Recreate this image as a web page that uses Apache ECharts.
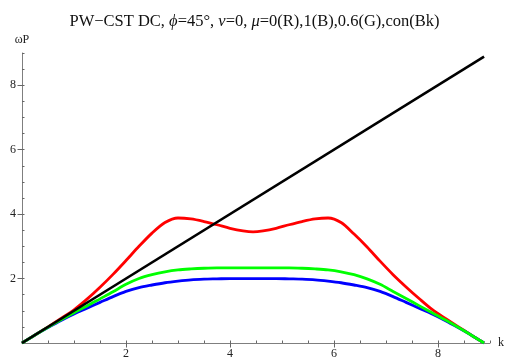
<!DOCTYPE html>
<html>
<head>
<meta charset="utf-8">
<script src="https://cdn.jsdelivr.net/npm/echarts@6/dist/echarts.min.js"></script>
<style>html,body{margin:0;padding:0;background:#fff}#c{width:509px;height:363px}</style>
</head>
<body>
<div id="c"></div>
<script>
const kValues = [0, 0.25, 0.5, 0.75, 1, 1.25, 1.5, 1.75, 2, 2.25, 2.5, 2.75, 3, 3.25, 3.5, 3.75, 4, 4.25, 4.443,
  4.636, 4.886, 5.136, 5.386, 5.636, 5.886, 6.136, 6.386, 6.636, 6.886, 7.136, 7.386, 7.636, 7.886, 8.136, 8.386, 8.636, 8.886];
const redValues = [0, 0.25, 0.5, 0.76, 1.03, 1.36, 1.73, 2.13, 2.56, 3.0, 3.41, 3.74, 3.88, 3.85, 3.77, 3.67, 3.56, 3.48, 3.45,
  3.48, 3.56, 3.67, 3.77, 3.85, 3.88, 3.74, 3.38, 2.98, 2.54, 2.12, 1.74, 1.38, 1.04, 0.77, 0.51, 0.25, 0];
const greenValues = [0, 0.25, 0.49, 0.72, 0.94, 1.15, 1.37, 1.59, 1.82, 2.0, 2.12, 2.21, 2.27, 2.3, 2.32, 2.33, 2.33, 2.33, 2.33,
  2.33, 2.33, 2.33, 2.32, 2.3, 2.27, 2.21, 2.12, 1.99, 1.82, 1.6, 1.38, 1.16, 0.94, 0.72, 0.49, 0.25, 0];
const blueValues = [0, 0.25, 0.48, 0.7, 0.9, 1.08, 1.26, 1.44, 1.6, 1.72, 1.8, 1.87, 1.92, 1.96, 1.98, 1.99, 2.0, 2.0, 2.0,
  2.0, 2.0, 1.99, 1.98, 1.96, 1.92, 1.87, 1.8, 1.72, 1.6, 1.44, 1.26, 1.08, 0.9, 0.7, 0.48, 0.25, 0];
const blackK = [0, 8.886];
const blackValues = [0, 8.886];
const xTickLabels = [2, 4, 6, 8];
const yTickLabels = [2, 4, 6, 8];

const pairs = (xs, ys) => xs.map((x, i) => [x, ys[i]]);
const serif = 'Liberation Serif';
const axisCol = '#7f7f7f';

function mkAxis(isX, main) {
  const base = {
    type: 'value', min: 0, max: 9, interval: 0.5,
    splitLine: { show: false },
    axisLine: { show: main, lineStyle: { color: axisCol, width: 1 } },
    axisTick: main
      ? { show: true, inside: true, length: 2.5, lineStyle: { color: '#666' } }
      : { show: true, inside: true, length: 4.5, customValues: isX ? xTickLabels : yTickLabels, lineStyle: { color: '#666' } },
    axisLabel: main
      ? { show: true, customValues: isX ? xTickLabels : yTickLabels, fontFamily: serif, fontSize: 12, color: '#222', margin: isX ? 5 : 6 }
      : { show: false },
    z: main ? 1 : 2
  };
  if (main) {
    if (isX) { base.name = 'k'; base.nameLocation = 'end'; base.nameGap = 8; base.nameTextStyle = { fontFamily: serif, fontSize: 12, color: '#222' }; }
    else { base.name = 'ωP'; base.nameLocation = 'end'; base.nameGap = 7; base.nameTextStyle = { fontFamily: serif, fontSize: 12, color: '#222' }; }
  }
  return base;
}

const chart = echarts.init(document.getElementById('c'), null, { renderer: 'canvas' });
chart.setOption({
  animation: false,
  backgroundColor: '#fff',
  title: {
    text: '{n|PW−CST DC, }{i|ϕ}{n|=45°, }{i|ν}{n|=0, }{i|μ}{n|=0(R),1(B),0.6(G),con(Bk)}',
    left: 'center', top: 8,
    textStyle: {
      fontWeight: 'normal',
      rich: {
        n: { fontFamily: serif, fontSize: 16.5, fontWeight: 'normal', color: '#111' },
        i: { fontFamily: serif, fontSize: 16.5, fontWeight: 'normal', fontStyle: 'italic', color: '#111' }
      }
    }
  },
  grid: { left: 22, right: 19, top: 53, bottom: 20, containLabel: false },
  xAxis: [mkAxis(true, true), mkAxis(true, false)],
  yAxis: [mkAxis(false, true), mkAxis(false, false)],
  series: [
    { type: 'line', data: pairs(kValues, redValues), smooth: 0.3, showSymbol: false, lineStyle: { color: '#ff0000', width: 2.8 }, z: 3 },
    { type: 'line', data: pairs(kValues, blueValues), smooth: 0.3, showSymbol: false, lineStyle: { color: '#0000ff', width: 2.8 }, z: 4 },
    { type: 'line', data: pairs(kValues, greenValues), smooth: 0.3, showSymbol: false, lineStyle: { color: '#00ff00', width: 2.8 }, z: 5 },
    { type: 'line', data: pairs(blackK, blackValues), showSymbol: false, lineStyle: { color: '#000000', width: 2.6 }, z: 6 }
  ]
});
</script>
</body>
</html>
